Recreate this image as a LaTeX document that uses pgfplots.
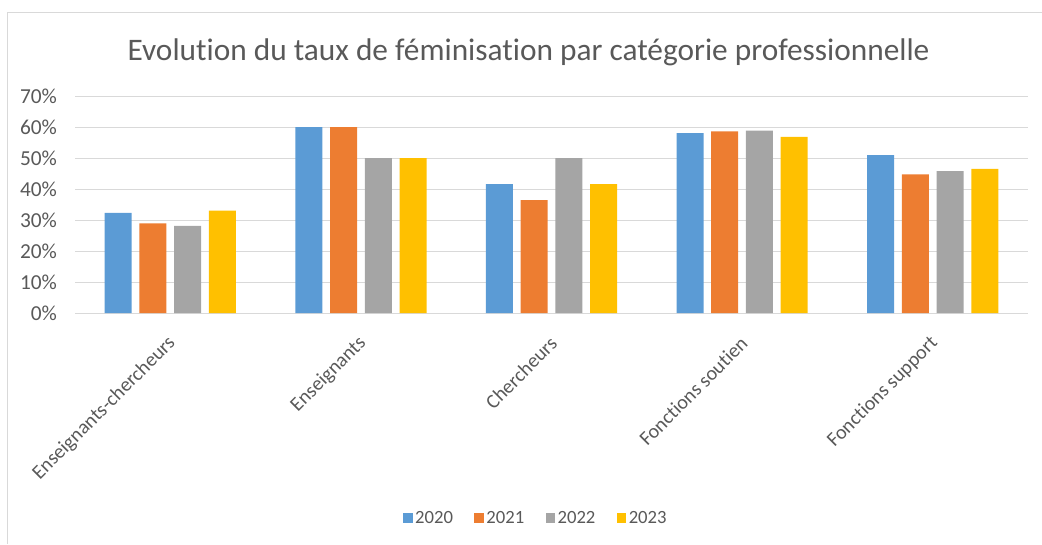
\documentclass[border=0pt]{standalone}
\usepackage{fontspec}
\setmainfont{Carlito}[Ligatures=NoCommon]
\usepackage{pgfplots}
\pgfplotsset{compat=1.18}
\definecolor{s20}{HTML}{5B9BD5}
\definecolor{s21}{HTML}{ED7D31}
\definecolor{s22}{HTML}{A5A5A5}
\definecolor{s23}{HTML}{FFC000}
\definecolor{txt}{HTML}{595959}
\definecolor{gridc}{HTML}{D9D9D9}
\begin{document}
\begin{tikzpicture}
\useasboundingbox (0,0) rectangle (781.5pt,-408pt);
\draw[gridc, line width=0.75pt] (5.25pt,-408pt) -- (5.25pt,-9pt) -- (781.5pt,-9pt);
\node[font=\fontsize{23.5}{28}\selectfont, text=txt] at (396.4pt,-39pt)
  {Evolution du taux de féminisation par catégorie professionnelle};
\begin{axis}[
  at={(56.25pt,-234.75pt)}, anchor=south west,
  scale only axis, width=714.75pt, height=162.75pt,
  ybar=5.8pt, bar width=20.25pt,
  xmin=-0.5, xmax=4.5, ymin=0, ymax=70,
  xtick=data,
  xticklabels={Enseignants-chercheurs,Enseignants,Chercheurs,Fonctions soutien,Fonctions support},
  ytick={0,10,...,70},
  yticklabel={\pgfmathprintnumber{\tick}\%},
  /pgf/number format/assume math mode=true,
  ymajorgrids, grid style={gridc, line width=0.75pt},
  axis line style={draw=none},
  major tick length=0pt,
  tick label style={text=txt},
  yticklabel style={font=\fontsize{16}{19}\selectfont, xshift=-10pt},
  xticklabel style={font=\fontsize{15}{18}\selectfont, xshift=4pt, yshift=-18pt, rotate=45, anchor=east},
  legend columns=4,
  legend style={at={(0.484,-0.945)}, anchor=center, draw=none,
    font=\fontsize{14}{17}\selectfont, text=txt,
    /tikz/every even column/.append style={column sep=14pt}},
  legend image code/.code={\fill[#1] (-3pt,-3.5pt) rectangle (4pt,4pt);},
]
\addplot[fill=s20, draw=none] coordinates {(0,32.3) (1,60) (2,41.6) (3,58.0) (4,50.9)};
\addplot[fill=s21, draw=none] coordinates {(0,28.9) (1,60) (2,36.4) (3,58.6) (4,44.7)};
\addplot[fill=s22, draw=none] coordinates {(0,28.1) (1,50) (2,50) (3,58.8) (4,45.8)};
\addplot[fill=s23, draw=none] coordinates {(0,33.0) (1,50) (2,41.6) (3,56.8) (4,46.5)};
\legend{2020,2021,2022,2023}
\end{axis}
\end{tikzpicture}
\end{document}
